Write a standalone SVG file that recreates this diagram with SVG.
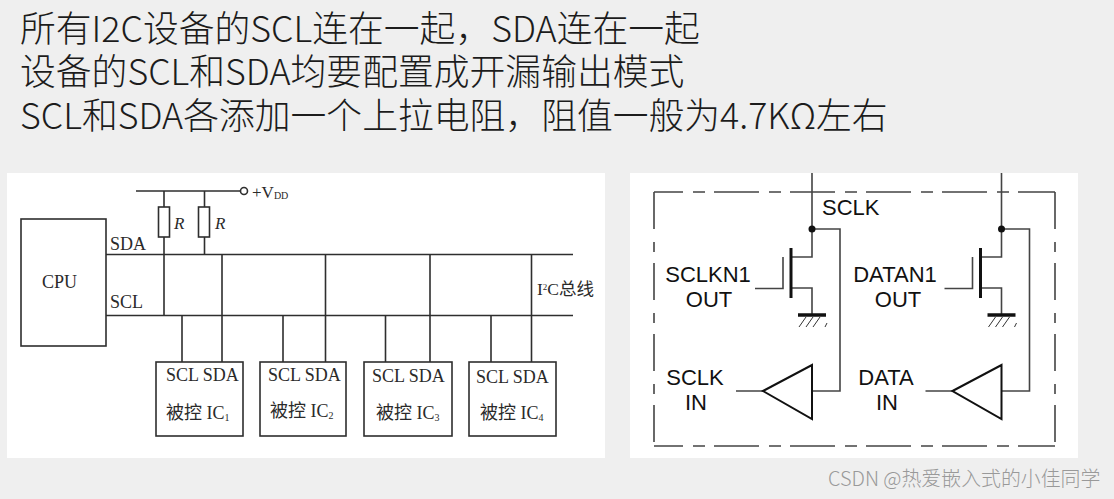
<svg xmlns="http://www.w3.org/2000/svg" width="1114" height="499" viewBox="0 0 1114 499">
<style>
.h{font:300 35.8px "Noto Sans CJK SC","Noto Sans",sans-serif;fill:#1c1c1c}
.s{font-family:"Liberation Serif","Noto Sans CJK SC",serif;fill:#2a2a2a}
.a{font:22px "Liberation Sans","Noto Sans",sans-serif;fill:#111}
.l{fill:none;stroke:#2e2e2e;stroke-width:1.6}
.b{fill:#fff;stroke:#2e2e2e;stroke-width:1.6}
.c{fill:none;stroke:#444;stroke-width:1.6}
.t{fill:none;stroke:#111;stroke-width:2}
.dh{stroke:#444;stroke-width:1.6;fill:none;stroke-dasharray:45 10 12 9;stroke-dashoffset:16}
.dv{stroke:#444;stroke-width:1.6;fill:none;stroke-dasharray:37 13 10 11}
</style>
<defs>
<g id="fet">
<path class="c" d="M812 173V257H791M791 288H812V314M755 288.500H783V257M812 229H840V391H812M736 391H763"/>
<path fill="none" stroke="#111" stroke-width="3" d="M791 248V298"/>
<path fill="none" stroke="#111" stroke-width="3.500" d="M798 315H826"/>
<path fill="none" stroke="#333" d="M799 327L806 317M806 327L813 317M813 327L820 317M825 327L827 323"/>
<circle cx="812" cy="229" r="3.500" fill="#111"/>
<path class="t" d="M763 391L812 365V419Z"/>
</g>
</defs>
<rect width="1114" height="499" fill="#efefef"/>
<g id="heading">
<text class="h" x="20" y="42">所有I2C设备的SCL连在一起，SDA连在一起</text>
<text class="h" x="20" y="85">设备的SCL和SDA均要配置成开漏输出模式</text>
<text class="h" x="20" y="129">SCL和SDA各添加一个上拉电阻，阻值一般为4.7KΩ左右</text>
</g>
<rect id="panel-left" x="7" y="173" width="598" height="285" fill="#fff"/>
<rect id="panel-right" x="630" y="173" width="448" height="285" fill="#fff"/>
<g id="connectors">
<path class="l" d="M136 191H240M164 191V207M204.500 191V207M164 237V315.500M204.500 237V254.500M106 254.500H573M106 315.500H573"/>
<path class="l" d="M222 254.500V362M325.500 254.500V362M430 254.500V362M531.500 254.500V362M182 315.500V362M283 315.500V362M385.500 315.500V362M491 315.500V362"/>
<circle class="l" cx="244" cy="191" r="3.500"/>
</g>
<g id="cpu"><rect class="b" x="21" y="219" width="85" height="127"/><text class="s" x="59.500" y="288" font-size="18" text-anchor="middle">CPU</text></g>
<g id="r1"><rect class="b" x="158.500" y="207" width="11" height="30"/><text class="s" x="174" y="229" font-size="17" font-style="italic">R</text></g>
<g id="r2"><rect class="b" x="198.500" y="207" width="11" height="30"/><text class="s" x="215" y="229" font-size="17" font-style="italic">R</text></g>
<g id="bus-labels">
<text class="s" x="110" y="250" font-size="18">SDA</text>
<text class="s" x="110" y="308" font-size="18">SCL</text>
<text class="s" x="252" y="198" font-size="17">+V<tspan font-size="10" dy="1">DD</tspan></text>
<text class="s" x="537" y="295" font-size="17.500">I<tspan font-size="9" dy="-5">2</tspan><tspan dy="5">C总线</tspan></text>
</g>
<g id="ic1"><rect class="b" x="156" y="362" width="87" height="74"/><text class="s" x="166" y="381" font-size="18">SCL SDA</text><text class="s" x="166" y="419" font-size="18">被控 IC<tspan font-size="10" dy="2">1</tspan></text></g>
<g id="ic2"><rect class="b" x="260" y="362" width="86" height="74"/><text class="s" x="268" y="381" font-size="18">SCL SDA</text><text class="s" x="270" y="417" font-size="18">被控 IC<tspan font-size="10" dy="2">2</tspan></text></g>
<g id="ic3"><rect class="b" x="364" y="362" width="88" height="74"/><text class="s" x="372" y="382" font-size="18">SCL SDA</text><text class="s" x="376" y="419" font-size="18">被控 IC<tspan font-size="10" dy="2">3</tspan></text></g>
<g id="ic4"><rect class="b" x="469" y="362" width="87" height="74"/><text class="s" x="476" y="383" font-size="18">SCL SDA</text><text class="s" x="480" y="419" font-size="18">被控 IC<tspan font-size="10" dy="2">4</tspan></text></g>
<g id="boundary">
<path class="dh" d="M654 192H1055"/><path class="dh" d="M654 446H1055"/>
<path class="dv" d="M654 192V446"/><path class="dv" d="M1055 192V446"/>
</g>
<g id="sclk-driver"><use href="#fet"/></g>
<g id="data-driver"><use href="#fet" transform="translate(189.500 0)"/></g>
<g id="right-labels">
<text class="a" x="822" y="215">SCLK</text>
<text class="a" x="708" y="282" text-anchor="middle">SCLKN1</text>
<text class="a" x="709" y="307" text-anchor="middle">OUT</text>
<text class="a" x="695" y="385" text-anchor="middle">SCLK</text>
<text class="a" x="696" y="410" text-anchor="middle">IN</text>
<text class="a" x="895" y="282" text-anchor="middle">DATAN1</text>
<text class="a" x="898" y="307" text-anchor="middle">OUT</text>
<text class="a" x="886" y="385" text-anchor="middle">DATA</text>
<text class="a" x="887" y="410" text-anchor="middle">IN</text>
</g>
<text id="watermark" x="828" y="486" font-size="19.900" font-weight="300" font-family="'Noto Sans CJK SC',sans-serif" fill="#999">CSDN @热爱嵌入式的小佳同学</text>
</svg>
